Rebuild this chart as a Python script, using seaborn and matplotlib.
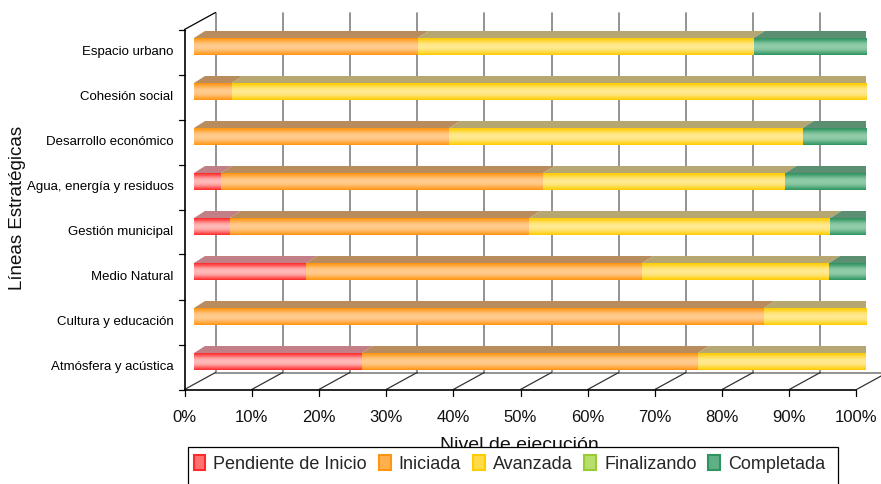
import numpy as np
import pandas as pd
import matplotlib
matplotlib.use('Agg')
import matplotlib.pyplot as plt
from matplotlib.patches import Polygon, Patch, Rectangle
import matplotlib.colors as mcolors
import seaborn as sns

# data (percent of actions per strategic line)
categories = ['Espacio urbano', 'Cohesión social', 'Desarrollo económico',
              'Agua, energía y residuos', 'Gestión municipal', 'Medio Natural',
              'Cultura y educación', 'Atmósfera y acústica']
series = ['Pendiente de Inicio', 'Iniciada', 'Avanzada', 'Finalizando', 'Completada']
pendiente = [0, 0, 0, 4.0, 5.3, 16.7, 0, 25.0]
iniciada = [33.3, 5.6, 38.0, 48.0, 44.6, 50.0, 84.8, 50.0]
avanzada = [50.0, 94.4, 52.6, 36.0, 44.8, 27.8, 15.2, 25.0]
finalizando = [0, 0, 0, 0, 0, 0, 0, 0]
completada = [16.7, 0, 9.4, 12.0, 5.3, 5.5, 0, 0]
x_ticks = [0, 10, 20, 30, 40, 50, 60, 70, 80, 90, 100]

edge_colors = ['#FF2A2A', '#FF9510', '#FFCC00', '#99CC33', '#2E9460']
light_colors = ['#FFB8B8', '#FFCB8C', '#FFE98F', '#D8F0A8', '#90CCA8']
top_colors = ['#C27F86', '#B98C5E', '#B5A672', '#A0B070', '#5C8F72']
side_colors = ['#8A4048', '#7C5A30', '#716A4A', '#6A7A40', '#2F5744']

W, H = 881, 484
sns.set_theme(style='white')
plt.rcParams['font.family'] = ['Liberation Sans', 'DejaVu Sans']

fig = plt.figure(figsize=(W / 100, H / 100), dpi=100)
# axes = plane of the bar fronts: 0..100 % between px 194 and 866
ax = fig.add_axes([194 / W, 1 - 384 / H, 672 / W, 360 / H])

n = len(categories)
px_x = 100 / 672
px_y = n / 360
fx, fy = -9.5 * px_x, 5.5 * px_y    # bar plane -> front plane
bx, by = 21.5 * px_x, -11.5 * px_y  # bar plane -> back wall
dx, dy = 11 * px_x, -7 * px_y       # depth of the bars
bar_h = 17 * px_y
y_top, y_bot = -0.5, n - 0.5

# back wall gridlines
for t in x_ticks:
    ax.plot([t + bx, t + bx], [y_top + by, y_bot + by], color='#808080', lw=1.2, zorder=1, clip_on=False)
# floor
ax.plot([bx, 100 + bx], [y_bot + by, y_bot + by], color='#808080', lw=1.2, zorder=1, clip_on=False)
for t in x_ticks:
    ax.plot([t + fx, t + bx], [y_bot + fy, y_bot + by], color='#333333', lw=0.9, zorder=1, clip_on=False)
    ax.plot([t + fx, t + fx], [y_bot + fy, y_bot + fy + 6 * px_y], color='black', lw=0.9, zorder=1, clip_on=False)
ax.plot([fx, 100 + fx], [y_bot + fy, y_bot + fy], color='black', lw=1.2, zorder=1, clip_on=False)
# left wall
ax.plot([fx, fx], [y_top + fy, y_bot + fy], color='black', lw=1.2, zorder=1, clip_on=False)
ax.plot([fx, bx], [y_top + fy, y_top + by], color='black', lw=0.9, zorder=1, clip_on=False)
for j in range(n + 1):
    ax.plot([fx - 6 * px_x, fx], [j - 0.5 + fy, j - 0.5 + fy], color='black', lw=0.9, zorder=1, clip_on=False)

# stacked bars (front faces)
values = np.array([pendiente, iniciada, avanzada, finalizando, completada])
cum = np.cumsum(values, axis=0)
for k in reversed(range(len(series))):
    sns.barplot(x=cum[k], y=categories, orient='h', color=edge_colors[k], saturation=1,
                width=bar_h, ax=ax, zorder=3, linewidth=0)

# gradient shading, top and side faces
prof = np.array([0, 0.35, 0.8, 1.0, 1.0, 0.8, 0.4, 0])
for k in range(len(series)):
    e = np.array(mcolors.to_rgb(edge_colors[k]))
    l = np.array(mcolors.to_rgb(light_colors[k]))
    f = np.interp(np.linspace(0, 1, 40), np.linspace(0, 1, len(prof)), prof)
    grad = (e[None, :] + f[:, None] * (l - e)[None, :])[:, None, :]
    for i in range(n):
        x0 = cum[k - 1][i] if k > 0 else 0
        x1 = cum[k][i]
        if x1 - x0 <= 0:
            continue
        ax.imshow(grad, extent=(x0, x1, i + bar_h / 2, i - bar_h / 2), aspect='auto',
                  interpolation='bilinear', zorder=4)
        yt = i - bar_h / 2
        ax.add_patch(Polygon([(x0, yt), (x1, yt), (x1 + dx, yt + dy), (x0 + dx, yt + dy)],
                             closed=True, facecolor=top_colors[k], edgecolor='none', zorder=4))
        if x1 >= 99.9:
            ax.add_patch(Polygon([(x1, yt), (x1 + dx, yt + dy), (x1 + dx, yt + bar_h + dy), (x1, yt + bar_h)],
                                 closed=True, facecolor=side_colors[k], edgecolor='none', zorder=4))

ax.set_xlim(0, 100)
ax.set_ylim(y_bot, y_top)
ax.axis('off')

# tick labels
for i, cat in enumerate(categories):
    ax.text(fx - 11 * px_x, i + fy, cat, ha='right', va='center', fontsize=9.5, color='black')
for t in x_ticks:
    ax.text(t + fx, y_bot + fy + 28 * px_y, f'{t}%', ha='center', va='center',
            fontsize=12, color='#111111')

fig.text(18 / W, 1 - 208 / H, 'Líneas Estratégicas', rotation=90, ha='center', va='center',
         fontsize=13.5, color='#111111')
fig.text(519 / W, 1 - 446 / H, 'Nivel de ejecución', ha='center', va='center',
         fontsize=14, color='#111111')

# legend box runs past the bottom edge of the picture
fig.patches.append(Rectangle((188 / W, -0.05), 650 / W, 0.05 + 37 / H, transform=fig.transFigure,
                             facecolor='white', edgecolor='black', linewidth=0.9, zorder=9))
handles = [Patch(facecolor=mcolors.to_hex((np.array(mcolors.to_rgb(e)) + np.array(mcolors.to_rgb(l))) / 2),
                 edgecolor=e, linewidth=1.5) for e, l in zip(edge_colors, light_colors)]
leg = fig.legend(handles, series, loc='center left', bbox_to_anchor=(190 / W, 1 - 464 / H),
                 ncol=5, frameon=False, prop={'size': 13}, handlelength=0.65, handleheight=0.9,
                 handletextpad=0.45, columnspacing=0.65, borderpad=0.2, borderaxespad=0)
leg.set_zorder(10)

fig.savefig('out.png', dpi=100)
